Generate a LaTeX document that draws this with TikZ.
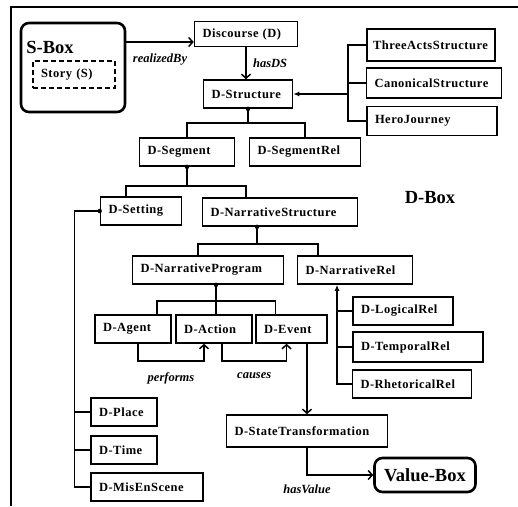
\documentclass[tikz,border=0pt]{standalone}
\usepackage{fontspec}
\setmainfont{Liberation Serif}
\newfontfamily\spacedserif[LetterSpace=4]{Liberation Serif}
\usetikzlibrary{arrows.meta}
\tikzset{
    d-box/.style = {draw, line width=1.6pt, rectangle, text width=#1, align=left, inner xsep=8pt, minimum height=28pt, font=\spacedserif\bfseries\fontsize{12.5}{14}\selectfont},
    round-box/.style = {draw, line width=2.6pt, rectangle, rounded corners=8pt},
    box-title/.style = {font=\bfseries\fontsize{18.5}{21}\selectfont},
    rel-label/.style = {font=\bfseries\itshape\fontsize{12.5}{14}\selectfont},
    link/.style = {line width=1.5pt},
    open-arrow/.style = {link, -{Straight Barb[length=4pt,width=9pt,line width=1.5pt]}},
    tri-arrow/.style = {link, -{Latex[length=6pt,width=5pt]}},
    dot/.style = {circle, fill, inner sep=0pt, minimum size=4.5pt},
}
\begin{document}
\begin{tikzpicture}[x=1pt, y=-1pt]
\useasboundingbox (0,0) rectangle (518,506);
% D-Box frame, cut off at the right and bottom
\draw[line width=2.8pt] (11,506) -- (11,7) -- (518,7);
\node[box-title] (dboxtitle) at (430,198) {D-Box};

% S-Box
\node[round-box, minimum width=104pt, minimum height=89pt] (sbox) at (73,67.5) {};
\node[box-title] (sboxtitle) at (50,47) {S-Box};
\node[d-box=66pt, dashed, dash pattern=on 5pt off 3pt, minimum height=27pt] (story) at (74,74.5) {Story (S)};

% boxes
\node[d-box=87pt, minimum height=25pt] (disc) at (246,34) {Discourse (D)};
\node[d-box=73pt] (dstruct) at (248,94) {D-Structure};
\node[d-box=116pt, inner xsep=6pt, minimum height=32pt] (three) at (431,45) {ThreeActsStructure};
\node[d-box=119pt, minimum height=30pt] (canon) at (434,83) {CanonicalStructure};
\node[d-box=114pt, minimum height=29pt] (hero) at (432,121) {HeroJourney};
\node[d-box=79pt] (dseg) at (187,152) {D-Segment};
\node[d-box=95pt] (dsegrel) at (305,152) {D-SegmentRel};
\node[d-box=65pt] (dsetting) at (141,211) {D-Setting};
\node[d-box=139pt] (dnarr) at (280,212) {D-NarrativeStructure};
\node[d-box=135pt] (dnprog) at (208,270) {D-NarrativeProgram};
\node[d-box=99pt] (dnrel) at (355,270) {D-NarrativeRel};
\node[d-box=60pt] (dagent) at (133,329) {D-Agent};
\node[d-box=60pt] (daction) at (214,329) {D-Action};
\node[d-box=55pt] (devent) at (291.5,329) {D-Event};
\node[d-box=84pt] (dlogical) at (403,311) {D-LogicalRel};
\node[d-box=114pt, minimum height=30pt] (dtemporal) at (418,347) {D-TemporalRel};
\node[d-box=103pt] (drhet) at (412,384) {D-RhetoricalRel};
\node[d-box=145pt, minimum height=32pt] (dstate) at (307,431) {D-StateTransformation};
\node[round-box, box-title, minimum width=101pt, minimum height=34pt] (valbox) at (425,475) {Value-Box};
\node[d-box=50pt] (dplace) at (124,412) {D-Place};
\node[d-box=50pt] (dtime) at (124,450) {D-Time};
\node[d-box=96pt] (dmis) at (147,487) {D-MisEnScene};

% S-Box to Discourse
\coordinate (rb) at ([yshift=-8pt]disc.west);
\draw[open-arrow] (rb -| sbox.east) -- node[rel-label, below=8pt] {realizedBy} (rb);
\draw[open-arrow] (disc.south) -- node[rel-label, right=3pt] {hasDS} (disc.south |- dstruct.north);

% structure types
\coordinate (brk) at (348,94);
\draw[link] (three.west) -| (brk) |- (hero.west);
\draw[link] (canon.west) -- (canon.west -| brk);
\draw[tri-arrow] (brk) -- (dstruct.east);

% tree
\draw[link] (dstruct.south) node[dot] {} -- ++(0,14) coordinate (j1) -| (dseg.north);
\draw[link] (j1) -| (dsegrel.north);
\draw[link] (dseg.south) node[dot] {} -- ++(0,19) coordinate (j2) -| ([xshift=-15pt]dsetting.north);
\draw[link] (j2) -| ([xshift=-34pt]dnarr.north);

\draw[link] (dsetting.west) node[dot] {} -- ++(-25,0) coordinate (s1) |- (dmis.west);
\draw[link] (dplace.west) -- (dplace.west -| s1);
\draw[link] (dtime.west) -- (dtime.west -| s1);

\draw[link] ([xshift=-23pt]dnarr.south) node[dot] {} -- ++(0,17) coordinate (j3) -| ([xshift=-10pt]dnprog.north);
\draw[link] (j3) -| ([xshift=-37pt]dnrel.north);

\draw[link] ([xshift=8pt]dnprog.south) node[dot] {} -- ([xshift=2pt]daction.north);
\coordinate (j4) at ([xshift=8pt, yshift=-16pt]dnprog.south);
\draw[link] ([xshift=24pt]dagent.north) |- (j4) -| ([xshift=-16pt]devent.north);

\draw[open-arrow] ([xshift=5pt]dagent.south) -- ++(0,17) -| node[rel-label, pos=0.25, below=8pt] {performs} ([xshift=-10pt]daction.south);
\draw[open-arrow] ([xshift=8pt]daction.south) -- ++(0,17) -| node[rel-label, pos=0.25, below=8pt] {causes} ([xshift=-5pt]devent.south);
\draw[open-arrow] (dstate.north |- devent.south) -- (dstate.north);

% narrative relations
\coordinate (rs) at ([xshift=-18pt]dnrel.south);
\draw[tri-arrow] (drhet.west) -| (rs);
\draw[link] (dlogical.west) -- (dlogical.west -| rs);
\draw[link] (dtemporal.west) -- (dtemporal.west -| rs);

\draw[open-arrow] (dstate.south) |- node[rel-label, pos=0.5, below=6pt] {hasValue} (valbox.west);
\end{tikzpicture}
\end{document}
